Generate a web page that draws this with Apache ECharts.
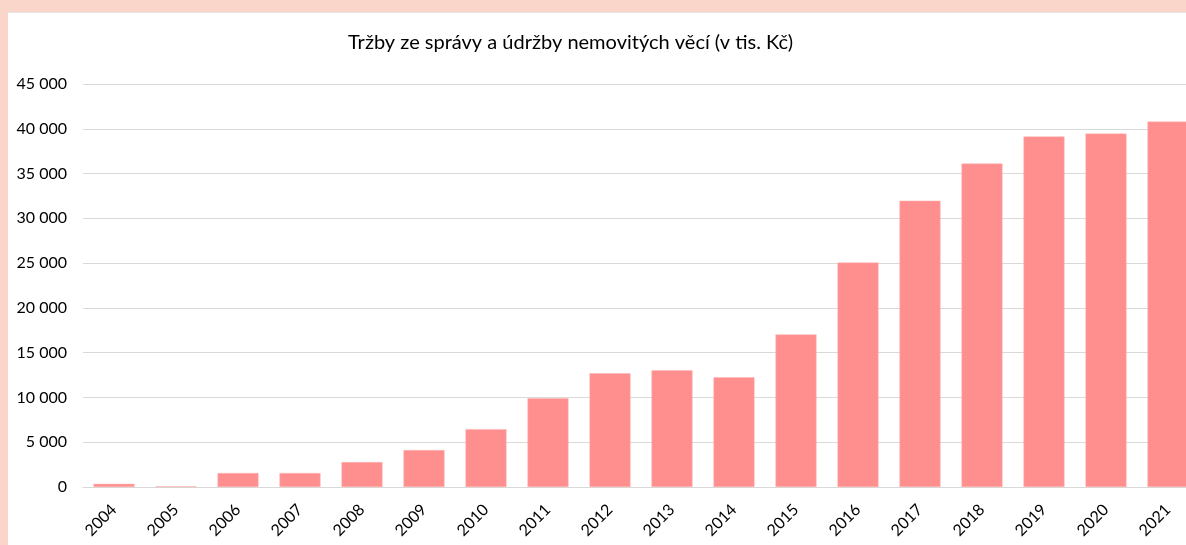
<!DOCTYPE html>
<html>
<head>
<meta charset="utf-8">
<title>Tržby ze správy a údržby nemovitých věcí</title>
<script src="https://cdn.jsdelivr.net/npm/echarts@6/dist/echarts.min.js"></script>
<style>
  html, body {
    margin: 0;
    padding: 0;
    width: 1186px;
    height: 545px;
    overflow: hidden;
    background-color: #fad6ca;
  }
  /* graf je vpravo oříznutý, proto je kontejner širší než okno */
  #myChart {
    position: absolute;
    left: 8px;
    top: 12px;
    width: 1191px;
    height: 533px;
    background-color: #fff;
    border-top: 1px solid #e4e4e4;
    box-sizing: border-box;
  }
</style>
</head>
<body>
<div id="myChart"></div>
<script>
// roky (kategorie osy x)
const years = ["2004", "2005", "2006", "2007", "2008", "2009", "2010", "2011", "2012",
  "2013", "2014", "2015", "2016", "2017", "2018", "2019", "2020", "2021"];
// tržby v tis. Kč
const revenue = [350, 80, 1560, 1560, 2780, 4120, 6460, 9910, 12700,
  13030, 12250, 17040, 25060, 31970, 36120, 39130, 39460, 40800];
const yTicks = [0, 5000, 10000, 15000, 20000, 25000, 30000, 35000, 40000, 45000];

const fontFam = "Lato, 'Open Sans', sans-serif";

function fmt(v) {
  // mezera jako oddělovač tisíců
  return String(v).replace(/\B(?=(\d{3})+(?!\d))/g, " ");
}

const myChart = echarts.init(document.getElementById("myChart"));
const options = {
  animation: false,
  title: {
    text: "Tržby ze správy a údržby nemovitých věcí (v tis. Kč)",
    left: 335,
    top: 15,
    textStyle: {
      fontFamily: fontFam,
      fontSize: 20,
      fontWeight: "normal",
      color: "#000",
    },
  },
  grid: {
    left: 75,
    right: 0,
    top: 71,
    bottom: 58,
    containLabel: false,
  },
  xAxis: {
    type: "category",
    data: years,
    axisLine: { lineStyle: { color: "#d9d9d9", width: 1 } },
    axisTick: { show: false },
    axisLabel: {
      rotate: 45,
      interval: 0,
      margin: 20,
      fontFamily: fontFam,
      fontSize: 16,
      color: "#000",
    },
  },
  yAxis: {
    type: "value",
    min: yTicks[0],
    max: yTicks[yTicks.length - 1],
    interval: 5000,
    axisLine: { show: false },
    axisTick: { show: false },
    splitLine: { lineStyle: { color: "#d9d9d9", width: 1 } },
    axisLabel: {
      margin: 16,
      fontFamily: fontFam,
      fontSize: 16,
      color: "#000",
      formatter: fmt,
    },
  },
  series: [
    {
      name: "Tržby",
      type: "bar",
      data: revenue,
      barWidth: 41,
      itemStyle: {
        color: "#ff8e8e",
        borderColor: "#ffb4b4",
        borderWidth: 0.5,
      },
    },
  ],
};
myChart.setOption(options);
</script>
</body>
</html>
